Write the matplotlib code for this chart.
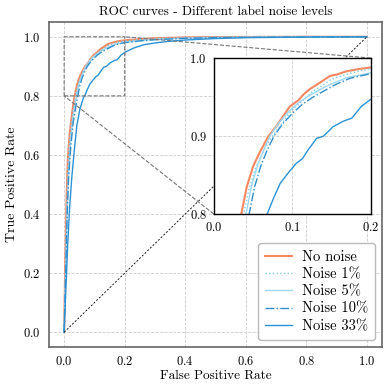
import numpy as np
import matplotlib
matplotlib.use("Agg")
import matplotlib.pyplot as plt

# ROC points (FPR, TPR)
fpr_none = [0, 0.004, 0.008, 0.012, 0.018, 0.025, 0.030, 0.035, 0.042, 0.050, 0.058, 0.069, 0.080, 0.088,
            0.097, 0.108, 0.114, 0.122, 0.133, 0.148, 0.157, 0.169, 0.185, 0.2, 0.25, 0.3, 0.4, 0.5, 0.6, 0.8, 1.0]
tpr_none = [0, 0.25, 0.45, 0.58, 0.67, 0.73, 0.77, 0.80, 0.835, 0.861, 0.878, 0.899, 0.913, 0.925,
            0.938, 0.946, 0.953, 0.960, 0.967, 0.977, 0.979, 0.983, 0.986, 0.988, 0.992, 0.995, 0.998, 0.999, 0.9995, 1.0, 1.0]

fpr_1 = [0, 0.005, 0.009, 0.013, 0.019, 0.026, 0.032, 0.038, 0.045, 0.053, 0.061, 0.072, 0.083, 0.091,
         0.100, 0.111, 0.118, 0.126, 0.137, 0.150, 0.160, 0.172, 0.187, 0.2, 0.25, 0.3, 0.4, 0.5, 0.6, 0.8, 1.0]
tpr_1 = [0, 0.24, 0.44, 0.57, 0.66, 0.72, 0.765, 0.80, 0.833, 0.858, 0.876, 0.896, 0.911, 0.922,
         0.934, 0.943, 0.950, 0.957, 0.964, 0.973, 0.976, 0.980, 0.984, 0.986, 0.991, 0.994, 0.997, 0.999, 0.9995, 1.0, 1.0]

fpr_5 = [0, 0.005, 0.01, 0.015, 0.021, 0.028, 0.035, 0.041, 0.048, 0.056, 0.064, 0.072, 0.083, 0.095,
         0.107, 0.120, 0.134, 0.150, 0.170, 0.2, 0.25, 0.3, 0.4, 0.5, 0.6, 0.8, 1.0]
tpr_5 = [0, 0.21, 0.41, 0.54, 0.64, 0.715, 0.765, 0.80, 0.836, 0.863, 0.883, 0.901, 0.917, 0.931,
         0.942, 0.951, 0.959, 0.967, 0.975, 0.981, 0.987, 0.991, 0.995, 0.997, 0.998, 0.999, 1.0]

fpr_10 = [0, 0.005, 0.01, 0.015, 0.022, 0.03, 0.038, 0.045, 0.052, 0.06, 0.068, 0.0767, 0.088, 0.1,
          0.112, 0.125, 0.139, 0.155, 0.1735, 0.2, 0.25, 0.3, 0.4, 0.5, 0.6, 0.8, 1.0]
tpr_10 = [0, 0.2, 0.4, 0.53, 0.63, 0.71, 0.76, 0.80, 0.835, 0.862, 0.882, 0.900, 0.916, 0.929,
          0.940, 0.949, 0.957, 0.966, 0.974, 0.980, 0.986, 0.990, 0.995, 0.997, 0.998, 0.999, 1.0]

fpr_33 = [0, 0.006, 0.012, 0.018, 0.025, 0.033, 0.042, 0.052, 0.064, 0.068, 0.076, 0.0844, 0.095, 0.105,
          0.113, 0.12, 0.131, 0.14, 0.152, 0.165, 0.176, 0.188, 0.2, 0.23, 0.263, 0.3, 0.34, 0.4, 0.5, 0.6, 0.8, 1.0]
tpr_33 = [0, 0.15, 0.3, 0.42, 0.52, 0.61, 0.70, 0.755, 0.795, 0.80, 0.82, 0.839, 0.853, 0.865,
          0.871, 0.882, 0.897, 0.900, 0.912, 0.919, 0.923, 0.938, 0.947, 0.962, 0.973, 0.979, 0.984, 0.989, 0.994, 0.997, 0.999, 1.0]

labels = ["No noise", "Noise 1%", "Noise 5%", "Noise 10%", "Noise 33%"]

plt.rcParams['font.family'] = ['cmr10', 'DejaVu Serif']
plt.rcParams['mathtext.fontset'] = 'cm'
plt.rcParams['axes.formatter.use_mathtext'] = True

fig = plt.figure(figsize=(3.9, 3.9), dpi=100)
ax = fig.add_axes([49/390, 1 - 347/390, 333/390, 325/390])

curves = [
    (fpr_none, tpr_none, dict(color='#f88860', lw=1.5, ls='-')),
    (fpr_1, tpr_1, dict(color='#7ccbf2', lw=1.0, ls=':')),
    (fpr_5, tpr_5, dict(color='#9dd8f5', lw=1.0, ls='-')),
    (fpr_10, tpr_10, dict(color='#2f8fcc', lw=1.0, ls='-.')),
    (fpr_33, tpr_33, dict(color='#2a92d6', lw=1.0, ls='-')),
]

for (x, y, st), lab in zip(curves, labels):
    ax.plot(x, y, label=lab, **st)
ax.plot([0, 1], [0, 1], 'k--', lw=0.6, dashes=(2.5, 2))

ax.set_xlim(-0.05, 1.05)
ax.set_ylim(-0.05, 1.05)
ax.set_xticks([0, 0.2, 0.4, 0.6, 0.8, 1.0])
ax.set_yticks([0, 0.2, 0.4, 0.6, 0.8, 1.0])
ax.grid(True, ls='--', color='#cccccc', lw=0.6)
ax.tick_params(length=0, labelsize=9, pad=6)
for s in ax.spines.values():
    s.set_color('#666666')
    s.set_linewidth(1.2)
ax.set_xlabel('False Positive Rate', fontsize=9.5, labelpad=1)
ax.set_ylabel('True Positive Rate', fontsize=10, labelpad=4)
ax.set_title('ROC curves - Different label noise levels', fontsize=9.5, pad=5)

leg = ax.legend(loc='lower right', fontsize=10.5, frameon=True, fancybox=True,
                edgecolor='#bbbbbb', framealpha=1, handlelength=1.85,
                handletextpad=0.7, labelspacing=0.25, borderpad=0.45)

# zoomed inset
axins = ax.inset_axes([0.495, 0.409, 0.471, 0.48])
for (x, y, st), lab in zip(curves, labels):
    axins.plot(x, y, **st)
axins.set_xlim(0, 0.2)
axins.set_ylim(0.8, 1.0)
axins.set_xticks([0, 0.1, 0.2])
axins.set_yticks([0.8, 0.9, 1.0])
axins.grid(True, ls='--', color='#cccccc', lw=0.6)
axins.tick_params(length=0, labelsize=9, pad=5)
for s in axins.spines.values():
    s.set_color('black')
    s.set_linewidth(1.0)
ax.indicate_inset_zoom(axins, edgecolor='#777777', linestyle='--', lw=0.8, alpha=1)

fig.savefig('out.png', dpi=100)
